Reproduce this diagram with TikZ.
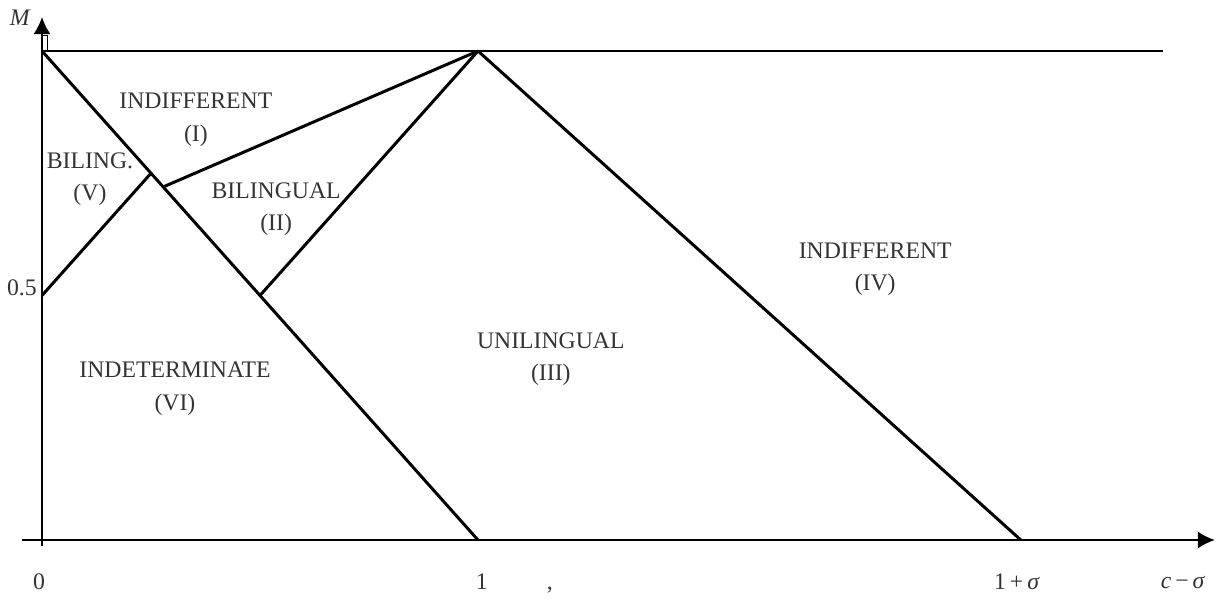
\documentclass[tikz,border=0pt]{standalone}
\usepackage{fontspec}
\setmainfont{Liberation Serif}
\usetikzlibrary{arrows.meta}
\tikzstyle{region} = [font=\fontsize{13.5pt}{18.5pt}\selectfont, text=black!80, align=center, inner sep=0pt]
\tikzstyle{boundary} = [line width=1.7pt]
\tikzstyle{axis} = [line width=1.1pt,-{Latex[length=3.4mm,width=3.4mm]}]
\tikzstyle{ticklabel} = [font=\fontsize{13.5pt}{15pt}\selectfont, text=black!80, inner sep=0pt]

\begin{document}
\begin{tikzpicture}[x=8.72cm,y=9.78cm]
	\useasboundingbox (-0.0963,-0.1247) rectangle (2.7064,1.1043);
	% axes
	\coordinate (x start) at (-0.046,0);
	\coordinate (x axis) at (2.69,0);
	\coordinate (y start) at (0,-0.012);
	\coordinate (y axis) at (0,1.0695);
	\draw [axis] (x start) -- (x axis);
	\draw [axis] (y start) -- (y axis);
	\coordinate (notch a) at (0,1.0327);
	\coordinate (notch b) at (0.0115,1.0327);
	\coordinate (notch c) at (0.0115,1);
	\draw [line width=0.5pt] (notch a) -- (notch b) -- (notch c);
	% corners of the regions
	\coordinate (A) at (0,1);
	\coordinate (B) at (1,1);
	\coordinate (C) at (1,0);
	\coordinate (D) at (2.245,0);
	\coordinate (E) at (0,0.5);
	\coordinate (F) at (0.25,0.75);
	\coordinate (G) at (0.278,0.722);
	\coordinate (H) at (0.5,0.5);
	\coordinate (T) at (2.571,1);
	\draw [boundary] (A) -- (T);
	\draw [boundary] (A) -- (C);
	\draw [boundary] (B) -- (D);
	\draw [boundary] (E) -- (F);
	\draw [boundary] (G) -- (B);
	\draw [boundary] (H) -- (B);
	% region labels
	\node [region] (indiff one) at (0.353,0.859) {INDIFFERENT\\(I)};
	\node [region] (biling five) at (0.11,0.738) {BILING.\\(V)};
	\node [region] (biling two) at (0.537,0.677) {BILINGUAL\\(II)};
	\node [region] (indiff four) at (1.911,0.554) {INDIFFERENT\\(IV)};
	\node [region] (unilingual) at (1.167,0.370) {UNILINGUAL\\(III)};
	\node [region] (indet) at (0.305,0.309) {INDETERMINATE\\(VI)};
	% tick labels
	\node [ticklabel] (zero) at (-0.007,-0.086) {0};
	\node [ticklabel] (one) at (1.009,-0.086) {1};
	\node [ticklabel] (one sigma) at (2.236,-0.086) {1\,+\,\textit{σ}};
	\node [ticklabel] (c sigma) at (2.617,-0.086) {\textit{c}\,−\,\textit{σ}};
	\node [ticklabel] (comma) at (1.165,-0.102) {,};
	\node [ticklabel] (half) at (-0.046,0.515) {0.5};
	\node [ticklabel] (M label) at (-0.05,1.067) {\textit{M}};
\end{tikzpicture}
\end{document}
